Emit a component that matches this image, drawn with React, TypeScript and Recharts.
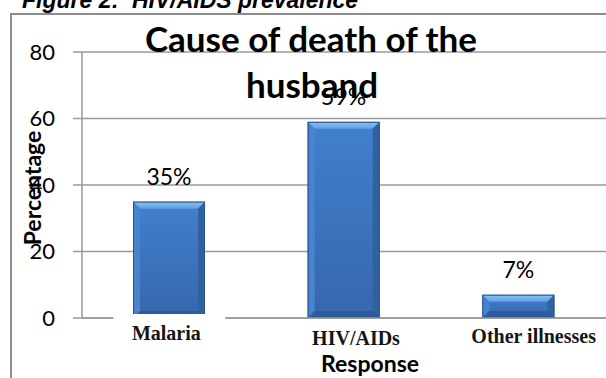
import { Bar, BarChart, CartesianGrid, LabelList, XAxis, YAxis } from "recharts";

const causes = ["Malaria", "HIV/AIDs", "Other illnesses"];
const percentages = [35, 59, 7];
const yTicks = [0, 20, 40, 60, 80];

const data = causes.map((cause, i) => ({ cause, value: percentages[i] }));

const GRID = "#9a9a9a";
const SANS = "Lato, 'Open Sans', sans-serif";

// the category labels sit a little off-centre under their bars
const tickNudge: Record<string, { dx: number; dy: number; boxed?: boolean }> = {
  Malaria: { dx: -3, dy: 22, boxed: true },
  "HIV/AIDs": { dx: 12, dy: 27 },
  "Other illnesses": { dx: 15, dy: 25 },
};

function CauseTick(props: any) {
  const { x, y, payload } = props;
  const n = tickNudge[payload.value] ?? { dx: 0, dy: 22 };
  return (
    <g>
      {n.boxed && <rect x={x - 56} y={y - 4} width={112} height={34} fill="#fff" />}
      <text
        x={x + n.dx}
        y={y + n.dy}
        textAnchor="middle"
        fontFamily="'Liberation Serif', 'Times New Roman', serif"
        fontWeight="bold"
        fontSize={20}
        fill="#151515"
      >
        {payload.value}
      </text>
    </g>
  );
}

// bevelled blue column, like the old office chart style
function BevelBar(props: any) {
  const { x, y, width: w, height: h } = props;
  if (!h || h <= 0) return null;
  const b = Math.min(7, h / 3, w / 4);
  return (
    <g>
      <rect x={x} y={y} width={w} height={h} fill="url(#barBody)" />
      <polygon points={`${x},${y} ${x + w},${y} ${x + w - b},${y + b} ${x + b},${y + b}`} fill="url(#barTop)" />
      <polygon points={`${x},${y} ${x + b},${y + b} ${x + b},${y + h - b} ${x},${y + h}`} fill="#4784d0" />
      <polygon points={`${x + w},${y} ${x + w},${y + h} ${x + w - b},${y + h - b} ${x + w - b},${y + b}`} fill="#30629f" />
      <polygon points={`${x},${y + h} ${x + b},${y + h - b} ${x + w - b},${y + h - b} ${x + w},${y + h}`} fill="#2d5b98" />
      <rect x={x + 0.5} y={y + 0.5} width={w - 1} height={h - 1} fill="none" stroke="#27528c" />
    </g>
  );
}

export default function App() {
  return (
    <div
      style={{
        position: "absolute",
        left: 0,
        top: 0,
        width: 606,
        height: 378,
        overflow: "hidden",
        background: "#fff",
      }}
    >
      <svg width={0} height={0} style={{ position: "absolute" }}>
        <defs>
          <linearGradient id="barBody" x1="0" y1="0" x2="0" y2="1">
            <stop offset="0%" stopColor="#417fcd" />
            <stop offset="100%" stopColor="#3767ad" />
          </linearGradient>
          <linearGradient id="barTop" x1="0" y1="0" x2="0" y2="1">
            <stop offset="0%" stopColor="#8cc3f4" />
            <stop offset="100%" stopColor="#5f9fe2" />
          </linearGradient>
        </defs>
      </svg>

      <BarChart width={606} height={378} data={data} margin={{ top: 52, right: 0, bottom: 30, left: 10 }}>
        <CartesianGrid vertical={false} stroke={GRID} strokeWidth={1.5} />
        <XAxis
          dataKey="cause"
          height={30}
          tickLine={false}
          tickSize={0}
          tickMargin={0}
          axisLine={{ stroke: GRID, strokeWidth: 1.5 }}
          tick={<CauseTick />}
          interval={0}
        />
        <YAxis
          width={72}
          domain={[0, 80]}
          ticks={yTicks}
          tickSize={9}
          tickMargin={18}
          axisLine={{ stroke: GRID, strokeWidth: 1.5 }}
          tickLine={{ stroke: GRID, strokeWidth: 1.5 }}
          tick={{ fill: "#000", fontSize: 22, fontFamily: SANS }}
        />
        <Bar dataKey="value" barSize={72} shape={<BevelBar />} isAnimationActive={false}>
          <LabelList
            dataKey="value"
            position="top"
            offset={17}
            formatter={(v: any) => `${v}%`}
            style={{ fill: "#000", fontSize: 23, fontFamily: SANS }}
          />
        </Bar>
      </BarChart>

      <svg
        width={606}
        height={378}
        style={{ position: "absolute", left: 0, top: 0, pointerEvents: "none" }}
      >
        <text
          x={22}
          y={8}
          fontFamily="'Liberation Sans', Arial, sans-serif"
          fontWeight="bold"
          fontStyle="italic"
          fontSize={23}
          fill="#000"
          style={{ whiteSpace: "pre" }}
        >
          {"Figure 2:  HIV/AIDS prevalence"}
        </text>
        <rect x={11} y={14} width={700} height={500} fill="none" stroke="#8c8c8c" strokeWidth={2} />
        <text x={311} y={52} textAnchor="middle" fontFamily={SANS} fontWeight="bold" fontSize={35} fill="#000">
          Cause of death of the
        </text>
        <text x={312} y={98} textAnchor="middle" fontFamily={SANS} fontWeight="bold" fontSize={35} fill="#000">
          husband
        </text>
        <text
          transform="translate(41,188) rotate(-90)"
          textAnchor="middle"
          fontFamily={SANS}
          fontWeight="bold"
          fontSize={23}
          fill="#000"
        >
          Percentage
        </text>
        <text x={370} y={372} textAnchor="middle" fontFamily={SANS} fontWeight="bold" fontSize={23} fill="#000">
          Response
        </text>
      </svg>
    </div>
  );
}
